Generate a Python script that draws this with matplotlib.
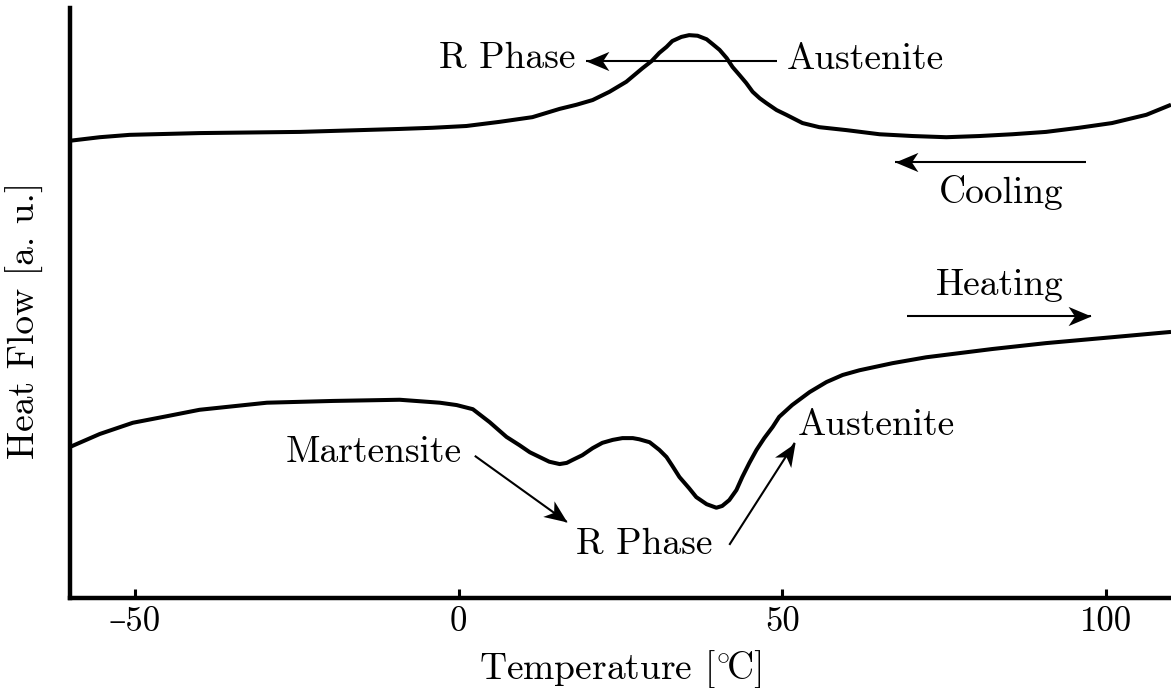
import numpy as np
import matplotlib
matplotlib.use("Agg")
import matplotlib.pyplot as plt
from matplotlib.path import Path
from matplotlib.markers import MarkerStyle

plt.rcParams["font.family"] = ["cmr10", "DejaVu Serif"]
plt.rcParams["mathtext.fontset"] = "cm"
plt.rcParams["axes.unicode_minus"] = False

# DSC trace on cooling (upper curve)
cool_T = [-60.0, -55.4, -50.8, -40.0, -24.5, -9.1, -4.0, 1.2, 6.3, 11.4, 15.6, 18.2,
          20.7, 23.3, 25.9, 28.4, 29.8, 31.0, 32.1, 33.0, 34.4, 35.6, 36.9, 38.3,
          39.2, 40.3, 41.4, 42.3, 43.4, 44.4, 45.4, 46.5, 47.5, 49.1, 50.6, 53.1,
          55.7, 59.9, 65.0, 70.1, 75.3, 80.4, 85.5, 90.7, 95.8, 100.9, 106.2, 110.0]
cool_q = [77.5, 78.1, 78.5, 78.8, 79.0, 79.5, 79.7, 80.0, 80.7, 81.5, 82.9, 83.6,
          84.4, 85.8, 87.5, 89.8, 91.0, 92.4, 93.4, 94.4, 95.1, 95.4, 95.3, 94.7,
          93.9, 92.9, 91.5, 90.0, 88.6, 87.3, 85.8, 84.7, 83.9, 82.7, 81.9, 80.5,
          79.8, 79.3, 78.6, 78.3, 78.1, 78.3, 78.6, 79.0, 79.7, 80.5, 81.9, 83.6]

# DSC trace on heating (lower curve)
heat_T = [-60.0, -55.4, -50.3, -45.1, -40.0, -29.6, -19.4, -9.1, -2.9, -0.3, 2.2,
          4.8, 7.4, 9.4, 11.0, 12.5, 14.0, 15.6, 16.7, 17.6, 19.1, 20.7, 22.2, 23.8,
          25.3, 26.9, 27.9, 29.5, 31.0, 32.1, 33.0, 34.1, 35.6, 36.7, 38.3, 39.8,
          40.7, 41.8, 42.9, 43.8, 44.9, 46.0, 47.2, 48.5, 49.5, 51.5, 54.2, 56.8,
          59.3, 61.9, 67.0, 72.2, 77.3, 82.4, 90.7, 100.9, 110.0]
heat_q = [25.6, 27.8, 29.7, 30.8, 31.9, 33.1, 33.4, 33.6, 33.1, 32.7, 32.0,
          29.8, 27.3, 25.9, 24.7, 23.9, 23.1, 22.7, 22.9, 23.4, 24.2, 25.4, 26.3, 26.8,
          27.1, 27.1, 26.9, 26.4, 25.1, 23.9, 22.4, 20.5, 18.6, 17.1, 15.9, 15.3,
          15.6, 16.6, 18.3, 20.5, 22.9, 25.1, 27.1, 29.0, 30.7, 32.7, 34.9, 36.6,
          37.8, 38.6, 39.8, 40.8, 41.5, 42.2, 43.2, 44.2, 45.1]

x_ticks = [-50, 0, 50, 100]
x_tick_labels = ["\u201350", "0", "50", "100"]

fig = plt.figure(figsize=(11.71, 6.88), dpi=100)
ax = fig.add_axes([70 / 1171, 90 / 688, 1101 / 1171, 590 / 688])

line_kw = dict(color="black", lw=2.9, solid_joinstyle="round", solid_capstyle="butt")
ax.plot(cool_T, cool_q, **line_kw)
ax.plot(heat_T, heat_q, **line_kw)

ax.set_xlim(-60, 110)
ax.set_ylim(0, 100)
ax.set_xticks(x_ticks)
ax.set_xticklabels(x_tick_labels)
ax.set_yticks([])
for side in ("top", "right"):
    ax.spines[side].set_visible(False)
for side in ("left", "bottom"):
    ax.spines[side].set_linewidth(3.2)
ax.tick_params(axis="x", direction="in", length=6.5, width=2.2, labelsize=25, pad=6)

ax.set_xlabel(r"Temperature [$^{\circ}\!\mathrm{C}$]", fontsize=27, labelpad=8)
ax.set_ylabel("Heat Flow [a. u.]", fontsize=27)
ax.yaxis.set_label_coords(-0.024, 0.471)

# stealth-style arrow head pointing along +x, tip at the origin
STEALTH = np.array([[0.0, 0.0], [-1.0, 0.42], [-0.72, 0.0], [-1.0, -0.42], [0.0, 0.0]])


def arrow(tail, tip):
    ax.plot([tail[0], tip[0]], [tail[1], tip[1]], color="black", lw=1.5,
            solid_capstyle="butt")
    p0 = ax.transData.transform(tail)
    p1 = ax.transData.transform(tip)
    ang = np.arctan2(p1[1] - p0[1], p1[0] - p0[0])
    rot = np.array([[np.cos(ang), -np.sin(ang)], [np.sin(ang), np.cos(ang)]])
    verts = STEALTH @ rot.T
    codes = [Path.MOVETO, Path.LINETO, Path.LINETO, Path.LINETO, Path.CLOSEPOLY]
    head = MarkerStyle(Path(verts, codes))
    # markers are scaled so the furthest vertex sits at half the marker size
    scale = np.abs(verts).max()
    ax.plot([tip[0]], [tip[1]], marker=head, markersize=33 * scale,
            color="black", markeredgewidth=0, linestyle="none")


fs = 27
# cooling annotations
ax.text(-3.1, 89.8, "R Phase", fontsize=fs, ha="left", va="baseline")
ax.text(50.6, 89.7, "Austenite", fontsize=fs, ha="left", va="baseline")
arrow((49.1, 91.0), (19.75, 91.0))
arrow((96.9, 73.9), (67.4, 73.9))
ax.text(83.8, 66.9, "Cooling", fontsize=fs, ha="center", va="baseline")

# heating annotations
arrow((69.3, 47.8), (97.7, 47.8))
ax.text(83.5, 51.4, "Heating", fontsize=fs, ha="center", va="baseline")
ax.text(0.5, 23.1, "Martensite", fontsize=fs, ha="right", va="baseline")
arrow((2.5, 24.1), (16.7, 12.9))
ax.text(28.7, 7.5, "R Phase", fontsize=fs, ha="center", va="baseline")
arrow((41.8, 9.0), (51.9, 26.3))
ax.text(52.3, 27.6, "Austenite", fontsize=fs, ha="left", va="baseline")

fig.savefig("out.png", dpi=100)
